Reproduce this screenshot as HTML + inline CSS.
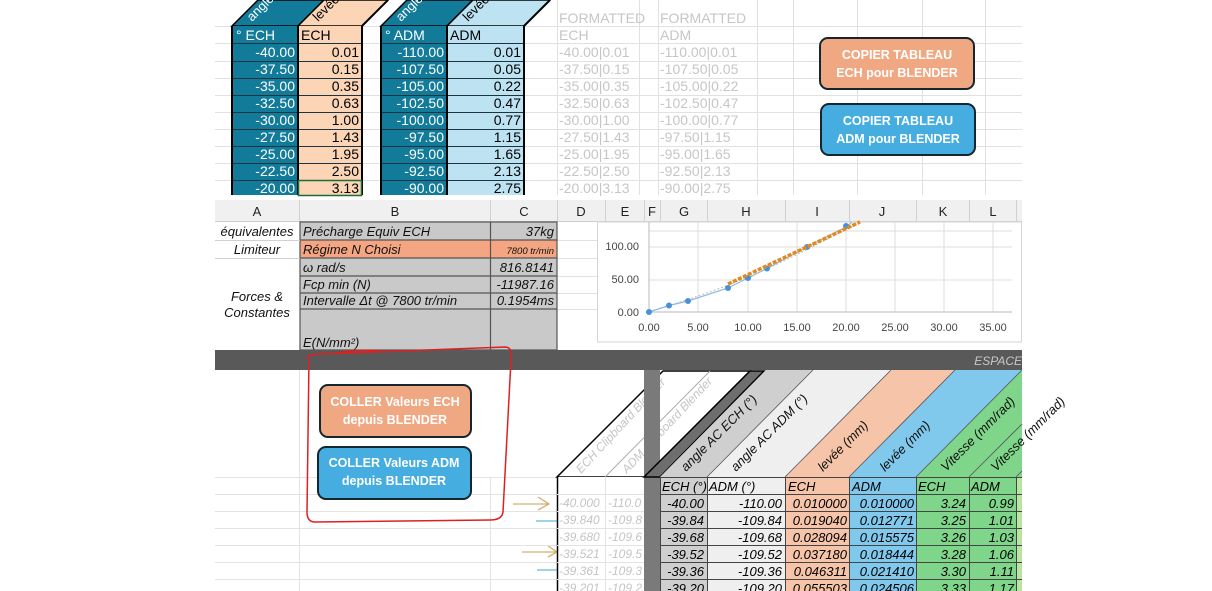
<!DOCTYPE html>
<html><head><meta charset="utf-8"><style>
html,body{margin:0;padding:0;background:#fff;}
svg{display:block;font-family:"Liberation Sans",Arial,sans-serif;}
</style></head><body>
<svg width="1212" height="591" viewBox="0 0 1212 591" xmlns="http://www.w3.org/2000/svg">
<rect width="1212" height="591" fill="#fff"/>
<!-- ===== TOP SECTION ===== -->
<g stroke="#e1e1e1" stroke-width="1">
  <line x1="215" y1="26.5" x2="1022" y2="26.5"/>
  <line x1="215" y1="43.5" x2="1022" y2="43.5"/>
  <line x1="215" y1="61.5" x2="1022" y2="61.5"/>
  <line x1="215" y1="78.5" x2="1022" y2="78.5"/>
  <line x1="215" y1="95.5" x2="1022" y2="95.5"/>
  <line x1="215" y1="112.5" x2="1022" y2="112.5"/>
  <line x1="215" y1="129.5" x2="1022" y2="129.5"/>
  <line x1="215" y1="146.5" x2="1022" y2="146.5"/>
  <line x1="215" y1="163.5" x2="1022" y2="163.5"/>
  <line x1="215" y1="180.5" x2="1022" y2="180.5"/>
  <line x1="557.5" y1="0" x2="557.5" y2="195"/>
  <line x1="639.5" y1="0" x2="639.5" y2="195"/>
  <line x1="658.5" y1="0" x2="658.5" y2="195"/>
  <line x1="757.5" y1="0" x2="757.5" y2="195"/>
  <line x1="793.5" y1="0" x2="793.5" y2="195"/>
  <line x1="857.5" y1="0" x2="857.5" y2="195"/>
  <line x1="922.5" y1="0" x2="922.5" y2="195"/>
  <line x1="985.5" y1="0" x2="985.5" y2="195"/>
</g>
<polygon points="232,26 298,26 324,0 258,0" fill="#127b9a" stroke="#000" stroke-width="1.5"/>
<polygon points="298,26 362,26 388,0 324,0" fill="#fbd5b5" stroke="#000" stroke-width="1.5"/>
<rect x="232" y="26" width="66" height="169" fill="#127b9a"/>
<rect x="298" y="26" width="64" height="169" fill="#fbd5b5"/>
<polygon points="381,26 447,26 473,0 407,0" fill="#127b9a" stroke="#000" stroke-width="1.5"/>
<polygon points="447,26 524,26 550,0 473,0" fill="#bde3f3" stroke="#000" stroke-width="1.5"/>
<rect x="381" y="26" width="66" height="169" fill="#127b9a"/>
<rect x="447" y="26" width="77" height="169" fill="#bde3f3"/>
<g stroke="#1b3440" stroke-width="1">
  <line x1="232" y1="43.5" x2="362" y2="43.5"/><line x1="381" y1="43.5" x2="524" y2="43.5"/>
  <line x1="232" y1="61.5" x2="362" y2="61.5"/><line x1="381" y1="61.5" x2="524" y2="61.5"/>
  <line x1="232" y1="78.5" x2="362" y2="78.5"/><line x1="381" y1="78.5" x2="524" y2="78.5"/>
  <line x1="232" y1="95.5" x2="362" y2="95.5"/><line x1="381" y1="95.5" x2="524" y2="95.5"/>
  <line x1="232" y1="112.5" x2="362" y2="112.5"/><line x1="381" y1="112.5" x2="524" y2="112.5"/>
  <line x1="232" y1="129.5" x2="362" y2="129.5"/><line x1="381" y1="129.5" x2="524" y2="129.5"/>
  <line x1="232" y1="146.5" x2="362" y2="146.5"/><line x1="381" y1="146.5" x2="524" y2="146.5"/>
  <line x1="232" y1="163.5" x2="362" y2="163.5"/><line x1="381" y1="163.5" x2="524" y2="163.5"/>
  <line x1="232" y1="180.5" x2="362" y2="180.5"/><line x1="381" y1="180.5" x2="524" y2="180.5"/>
</g>
<g stroke="#000" stroke-width="2" fill="none">
  <line x1="232" y1="26" x2="232" y2="195"/><line x1="298" y1="26" x2="298" y2="195"/><line x1="362" y1="26" x2="362" y2="195"/>
  <line x1="381" y1="26" x2="381" y2="195"/><line x1="447" y1="26" x2="447" y2="195"/><line x1="524" y1="26" x2="524" y2="195"/>
  <line x1="362" y1="26" x2="388" y2="0"/><line x1="524" y1="26" x2="550" y2="0"/>
</g>
<rect x="298.5" y="180.5" width="63" height="15" fill="none" stroke="#1e6b3a" stroke-width="1.5"/>
<g font-size="13">
  <text x="252" y="22" fill="#fff" transform="rotate(-45 252 22)">angle</text>
  <text x="401" y="22" fill="#fff" transform="rotate(-45 401 22)">angle</text>
  <text x="318" y="22" fill="#000" transform="rotate(-45 318 22)">levée</text>
  <text x="468" y="22" fill="#000" transform="rotate(-45 468 22)">levée</text>
</g>
<g font-size="14">
  <text x="236" y="40" fill="#fff">° ECH</text><text x="301" y="40" fill="#000">ECH</text>
  <text x="385" y="40" fill="#fff">° ADM</text><text x="450" y="40" fill="#000">ADM</text>
</g>
<g font-size="14" text-anchor="end">
  <g fill="#fff">
    <text x="295" y="57">-40.00</text><text x="295" y="74">-37.50</text><text x="295" y="91">-35.00</text><text x="295" y="108">-32.50</text><text x="295" y="125">-30.00</text><text x="295" y="142">-27.50</text><text x="295" y="159">-25.00</text><text x="295" y="176">-22.50</text><text x="295" y="193">-20.00</text>
    <text x="444" y="57">-110.00</text><text x="444" y="74">-107.50</text><text x="444" y="91">-105.00</text><text x="444" y="108">-102.50</text><text x="444" y="125">-100.00</text><text x="444" y="142">-97.50</text><text x="444" y="159">-95.00</text><text x="444" y="176">-92.50</text><text x="444" y="193">-90.00</text>
  </g>
  <g fill="#000">
    <text x="359" y="57">0.01</text><text x="359" y="74">0.15</text><text x="359" y="91">0.35</text><text x="359" y="108">0.63</text><text x="359" y="125">1.00</text><text x="359" y="142">1.43</text><text x="359" y="159">1.95</text><text x="359" y="176">2.50</text><text x="359" y="193">3.13</text>
    <text x="521" y="57">0.01</text><text x="521" y="74">0.05</text><text x="521" y="91">0.22</text><text x="521" y="108">0.47</text><text x="521" y="125">0.77</text><text x="521" y="142">1.15</text><text x="521" y="159">1.65</text><text x="521" y="176">2.13</text><text x="521" y="193">2.75</text>
  </g>
</g>
<g font-size="14" fill="#c6c6c6">
  <text x="559" y="23">FORMATTED</text><text x="660" y="23">FORMATTED</text>
  <text x="559" y="40">ECH</text><text x="660" y="40">ADM</text>
  <text x="559" y="57">-40.00|0.01</text><text x="559" y="74">-37.50|0.15</text><text x="559" y="91">-35.00|0.35</text><text x="559" y="108">-32.50|0.63</text><text x="559" y="125">-30.00|1.00</text><text x="559" y="142">-27.50|1.43</text><text x="559" y="159">-25.00|1.95</text><text x="559" y="176">-22.50|2.50</text><text x="559" y="193">-20.00|3.13</text>
  <text x="660" y="57">-110.00|0.01</text><text x="660" y="74">-107.50|0.05</text><text x="660" y="91">-105.00|0.22</text><text x="660" y="108">-102.50|0.47</text><text x="660" y="125">-100.00|0.77</text><text x="660" y="142">-97.50|1.15</text><text x="660" y="159">-95.00|1.65</text><text x="660" y="176">-92.50|2.13</text><text x="660" y="193">-90.00|2.75</text>
</g>
<rect x="820" y="38" width="154" height="51" rx="8" fill="#f0a883" stroke="#16262f" stroke-width="2"/>
<rect x="821" y="104" width="154" height="51" rx="8" fill="#45ade0" stroke="#16262f" stroke-width="2"/>
<g font-size="12.5" font-weight="bold" fill="#fff" text-anchor="middle">
  <text x="897" y="59">COPIER TABLEAU</text><text x="897" y="77">ECH pour BLENDER</text>
  <text x="898" y="125">COPIER TABLEAU</text><text x="898" y="143">ADM pour BLENDER</text>
</g>
<!-- ===== MIDDLE SECTION ===== -->
<rect x="215" y="200" width="807" height="22" fill="#f0f0f0"/>
<g stroke="#d0d0d0"><line x1="215" y1="221.5" x2="1022" y2="221.5"/>
<line x1="299.5" y1="200" x2="299.5" y2="222"/><line x1="490.5" y1="200" x2="490.5" y2="222"/><line x1="557.5" y1="200" x2="557.5" y2="222"/><line x1="605.5" y1="200" x2="605.5" y2="222"/><line x1="644.5" y1="200" x2="644.5" y2="222"/><line x1="660.5" y1="200" x2="660.5" y2="222"/><line x1="707.5" y1="200" x2="707.5" y2="222"/><line x1="785.5" y1="200" x2="785.5" y2="222"/><line x1="849.5" y1="200" x2="849.5" y2="222"/><line x1="916.5" y1="200" x2="916.5" y2="222"/><line x1="969.5" y1="200" x2="969.5" y2="222"/><line x1="1016.5" y1="200" x2="1016.5" y2="222"/></g>
<g font-size="13" fill="#222" text-anchor="middle">
<text x="257" y="216">A</text><text x="395" y="216">B</text><text x="524" y="216">C</text><text x="581" y="216">D</text><text x="625" y="216">E</text><text x="652" y="216">F</text><text x="684" y="216">G</text><text x="746" y="216">H</text><text x="817" y="216">I</text><text x="882" y="216">J</text><text x="943" y="216">K</text><text x="993" y="216">L</text></g>
<g stroke="#e1e1e1"><line x1="557" y1="240.5" x2="600" y2="240.5"/><line x1="557" y1="258.5" x2="600" y2="258.5"/><line x1="557" y1="276.5" x2="600" y2="276.5"/><line x1="557" y1="293.5" x2="600" y2="293.5"/><line x1="557" y1="309.5" x2="600" y2="309.5"/></g>
<rect x="300" y="222" width="257" height="128" fill="#c9c9c9"/>
<rect x="300" y="240" width="257" height="18" fill="#f4a582"/>
<g stroke="#555" stroke-width="1.2" fill="none">
  <rect x="300" y="222" width="257" height="128"/>
  <line x1="490.5" y1="222" x2="490.5" y2="350"/>
  <line x1="300" y1="240" x2="557" y2="240"/><line x1="300" y1="258" x2="557" y2="258"/><line x1="300" y1="276" x2="557" y2="276"/><line x1="300" y1="293" x2="557" y2="293"/><line x1="300" y1="309" x2="557" y2="309"/>
</g>
<g stroke="#d0d0d0"><line x1="215" y1="240.5" x2="300" y2="240.5"/><line x1="215" y1="258.5" x2="300" y2="258.5"/></g>
<g font-size="13" font-style="italic" fill="#111">
  <text x="257" y="236" text-anchor="middle">équivalentes</text>
  <text x="257" y="254" text-anchor="middle">Limiteur</text>
  <text x="257" y="301" text-anchor="middle">Forces &amp;</text>
  <text x="257" y="317" text-anchor="middle">Constantes</text>
  <text x="303" y="236">Précharge Equiv ECH</text>
  <text x="303" y="254">Régime N Choisi</text>
  <text x="303" y="272">ω rad/s</text>
  <text x="303" y="289">Fcp min (N)</text>
  <text x="303" y="305">Intervalle Δt @ 7800 tr/min</text>
  <text x="303" y="347">E(N/mm²)</text>
  <g text-anchor="end"><text x="554" y="236">37kg</text><text x="554" y="254" font-size="9.5">7800 tr/min</text><text x="554" y="272">816.8141</text><text x="554" y="289">-11987.16</text><text x="554" y="305">0.1954ms</text></g>
</g>
<!-- chart -->
<rect x="597.5" y="222" width="424" height="120" fill="#fff" stroke="#d6d6d6"/>
<g stroke="#dcdcdc">
  <line x1="649" y1="247" x2="1012" y2="247"/><line x1="649" y1="280" x2="1012" y2="280"/><line x1="649" y1="231" x2="1012" y2="231"/>
  <line x1="698" y1="222" x2="698" y2="312"/><line x1="748" y1="222" x2="748" y2="312"/><line x1="797" y1="222" x2="797" y2="312"/><line x1="846" y1="222" x2="846" y2="312"/><line x1="895" y1="222" x2="895" y2="312"/><line x1="944" y1="222" x2="944" y2="312"/><line x1="993" y1="222" x2="993" y2="312"/>
</g>
<g stroke="#c8c8c8" stroke-width="1.3"><line x1="649" y1="312" x2="1012" y2="312"/><line x1="649" y1="222" x2="649" y2="312"/></g>
<path d="M649,312 Q720,290 760,272 T860,222" fill="none" stroke="#bbb" stroke-dasharray="2,2"/>
<path d="M649,312 L669,305.5 L688,301 L728,288 L748,278 L767,268.5 L807,247 L846,227 L852,222" fill="none" stroke="#8fb8e0" stroke-width="1.2"/>
<g fill="#4a90d9"><circle cx="649" cy="312" r="3"/><circle cx="669" cy="305.5" r="3"/><circle cx="688" cy="301" r="3"/><circle cx="728" cy="288" r="3"/><circle cx="748" cy="278" r="3"/><circle cx="767" cy="268.5" r="3"/><circle cx="807" cy="247" r="3"/><circle cx="846" cy="226" r="3"/></g>
<line x1="728" y1="284" x2="860" y2="222" stroke="#e08a20" stroke-width="3.5" stroke-dasharray="4,1.5"/>
<g font-size="11" fill="#444">
  <g text-anchor="end"><text x="639" y="250">100.00</text><text x="639" y="283">50.00</text><text x="639" y="316">0.00</text></g>
  <g text-anchor="middle"><text x="649" y="331">0.00</text><text x="698" y="331">5.00</text><text x="748" y="331">10.00</text><text x="797" y="331">15.00</text><text x="846" y="331">20.00</text><text x="895" y="331">25.00</text><text x="944" y="331">30.00</text><text x="993" y="331">35.00</text></g>
</g>
<!-- dark bar -->
<rect x="215" y="350" width="807" height="20" fill="#595959"/>
<text x="1022" y="365" font-size="12" font-style="italic" fill="#c8c8c8" text-anchor="end">ESPACE</text>
<!-- ===== BOTTOM SECTION ===== -->
<g stroke="#e3e3e3">
  <line x1="215" y1="477.5" x2="557" y2="477.5"/><line x1="215" y1="494.5" x2="557" y2="494.5"/><line x1="215" y1="511.5" x2="557" y2="511.5"/><line x1="215" y1="528.5" x2="557" y2="528.5"/><line x1="215" y1="545.5" x2="557" y2="545.5"/><line x1="215" y1="562.5" x2="557" y2="562.5"/><line x1="215" y1="579.5" x2="557" y2="579.5"/>
  <line x1="299.5" y1="370" x2="299.5" y2="591"/><line x1="490.5" y1="477" x2="490.5" y2="591"/>
</g>
<rect x="320" y="385" width="151" height="52" rx="8" fill="#f0a883" stroke="#16262f" stroke-width="2"/>
<rect x="318" y="447" width="153" height="52" rx="8" fill="#45ade0" stroke="#16262f" stroke-width="2"/>
<g font-size="12.5" font-weight="bold" fill="#fff" text-anchor="middle">
  <text x="395" y="406">COLLER Valeurs ECH</text><text x="395" y="424">depuis BLENDER</text>
  <text x="394" y="467">COLLER Valeurs ADM</text><text x="394" y="485">depuis BLENDER</text>
</g>
<path d="M309,358 Q305,355 320,354 L505,347 Q513,347 511,360 L503,512 Q502,520 490,520 L315,522 Q307,522 307,512 Z M337,353 Q360,348 385,352" fill="none" stroke="#e02020" stroke-width="1.5"/>
<g fill="none" stroke-width="1.3">
  <path d="M513,504 L548,504 M538,497 L549,504 L538,510" stroke="#d2b070"/>
  <path d="M536,521 L605,521 M595,514 L605,521 L595,526" stroke="#6ab6dc"/>
  <path d="M522,552 L557,552 M548,546 L557,552 L548,557" stroke="#d2b070"/>
  <path d="M537,570 L605,570 M597,563 L607,570 L597,573" stroke="#6ab6dc"/>
</g>
<polygon points="557,477 645,477 750,371 663,371" fill="#fff" stroke="#000" stroke-width="1.5"/>
<line x1="605" y1="477" x2="710" y2="371" stroke="#aaa"/>
<rect x="557" y="477" width="88" height="114" fill="#fff"/>
<line x1="557.5" y1="477" x2="557.5" y2="591" stroke="#000" stroke-width="1.5"/>
<g stroke="#e3e3e3"><line x1="557" y1="494.5" x2="645" y2="494.5"/><line x1="557" y1="511.5" x2="645" y2="511.5"/><line x1="557" y1="528.5" x2="645" y2="528.5"/><line x1="557" y1="545.5" x2="645" y2="545.5"/><line x1="557" y1="562.5" x2="645" y2="562.5"/><line x1="557" y1="579.5" x2="645" y2="579.5"/><line x1="605.5" y1="477" x2="605.5" y2="591"/></g>
<g font-size="12" fill="#c4c4c4" font-style="italic">
  <text x="581" y="474" transform="rotate(-47 581 474)">ECH Clipboard Blender</text>
  <text x="627" y="474" transform="rotate(-47 627 474)">ADM Clipboard Blender</text>
  <text x="559" y="507">-40.000</text><text x="559" y="524">-39.840</text><text x="559" y="541">-39.680</text><text x="559" y="558">-39.521</text><text x="559" y="575">-39.361</text><text x="559" y="592">-39.201</text>
  <text x="608" y="507">-110.0</text><text x="608" y="524">-109.8</text><text x="608" y="541">-109.6</text><text x="608" y="558">-109.5</text><text x="608" y="575">-109.3</text><text x="608" y="592">-109.2</text>
</g>
<rect x="644" y="370" width="16" height="221" fill="#7a7a7a"/>
<polygon points="644,477 750,371 764,371 660,477" fill="#6e6e6e" stroke="#000" stroke-width="1.5"/>
<polygon points="660,477 707,477 813,370 766,370" fill="#cfcfcf"/>
<polygon points="707,477 785,477 891,370 813,370" fill="#efefef"/>
<polygon points="785,477 849,477 955,370 891,370" fill="#f6c4a8"/>
<polygon points="849,477 916,477 1022,370 955,370" fill="#80c8ec"/>
<polygon points="916,477 1022,477 1022,370" fill="#7fd68a"/>
<g stroke="#555" stroke-width="0.8"><line x1="707" y1="477" x2="813" y2="370"/><line x1="785" y1="477" x2="891" y2="370"/><line x1="849" y1="477" x2="955" y2="370"/><line x1="916" y1="477" x2="1022" y2="370"/><line x1="969" y1="477" x2="1022" y2="424"/><line x1="1016" y1="477" x2="1022" y2="471"/></g>
<g font-size="13" font-style="italic" fill="#111">
  <text x="686" y="472" transform="rotate(-45 686 472)">angle AC ECH (°)</text>
  <text x="736" y="472" transform="rotate(-45 736 472)">angle AC ADM (°)</text>
  <text x="823" y="472" transform="rotate(-45 823 472)">levée (mm)</text>
  <text x="885" y="472" transform="rotate(-45 885 472)">levée (mm)</text>
  <text x="946" y="472" transform="rotate(-45 946 472)">Vitesse (mm/rad)</text>
  <text x="996" y="472" transform="rotate(-45 996 472)">Vitesse (mm/rad)</text>
</g>
<rect x="660" y="477" width="47" height="114" fill="#cfcfcf"/>
<rect x="707" y="477" width="78" height="114" fill="#efefef"/>
<rect x="785" y="477" width="64" height="114" fill="#f6c4a8"/>
<rect x="849" y="477" width="67" height="114" fill="#80c8ec"/>
<rect x="916" y="477" width="106" height="114" fill="#7fd68a"/>
<rect x="1016" y="477" width="6" height="114" fill="#b8e6a0"/>
<g stroke="#444" stroke-width="1">
  <line x1="660" y1="477.5" x2="1022" y2="477.5"/><line x1="660" y1="494.5" x2="1022" y2="494.5"/><line x1="660" y1="511.5" x2="1022" y2="511.5"/><line x1="660" y1="528.5" x2="1022" y2="528.5"/><line x1="660" y1="545.5" x2="1022" y2="545.5"/><line x1="660" y1="562.5" x2="1022" y2="562.5"/><line x1="660" y1="579.5" x2="1022" y2="579.5"/>
  <line x1="660.5" y1="477" x2="660.5" y2="591"/><line x1="707.5" y1="477" x2="707.5" y2="591"/><line x1="785.5" y1="477" x2="785.5" y2="591"/><line x1="849.5" y1="477" x2="849.5" y2="591"/><line x1="916.5" y1="477" x2="916.5" y2="591"/><line x1="969.5" y1="477" x2="969.5" y2="591"/><line x1="1016.5" y1="477" x2="1016.5" y2="591"/>
</g>
<g font-size="13" font-style="italic" fill="#000">
  <text x="662" y="491">ECH (°)</text><text x="709" y="491">ADM (°)</text><text x="788" y="491">ECH</text><text x="852" y="491">ADM</text><text x="918" y="491">ECH</text><text x="971" y="491">ADM</text>
  <g text-anchor="end">
    <text x="704" y="508">-40.00</text><text x="704" y="525">-39.84</text><text x="704" y="542">-39.68</text><text x="704" y="559">-39.52</text><text x="704" y="576">-39.36</text><text x="704" y="593">-39.20</text>
    <text x="782" y="508">-110.00</text><text x="782" y="525">-109.84</text><text x="782" y="542">-109.68</text><text x="782" y="559">-109.52</text><text x="782" y="576">-109.36</text><text x="782" y="593">-109.20</text>
    <text x="847" y="508">0.010000</text><text x="847" y="525">0.019040</text><text x="847" y="542">0.028094</text><text x="847" y="559">0.037180</text><text x="847" y="576">0.046311</text><text x="847" y="593">0.055503</text>
    <text x="914" y="508">0.010000</text><text x="914" y="525">0.012771</text><text x="914" y="542">0.015575</text><text x="914" y="559">0.018444</text><text x="914" y="576">0.021410</text><text x="914" y="593">0.024506</text>
    <text x="966" y="508">3.24</text><text x="966" y="525">3.25</text><text x="966" y="542">3.26</text><text x="966" y="559">3.28</text><text x="966" y="576">3.30</text><text x="966" y="593">3.33</text>
    <text x="1014" y="508">0.99</text><text x="1014" y="525">1.01</text><text x="1014" y="542">1.03</text><text x="1014" y="559">1.06</text><text x="1014" y="576">1.11</text><text x="1014" y="593">1.17</text>
  </g>
</g>
</svg>
</body></html>
